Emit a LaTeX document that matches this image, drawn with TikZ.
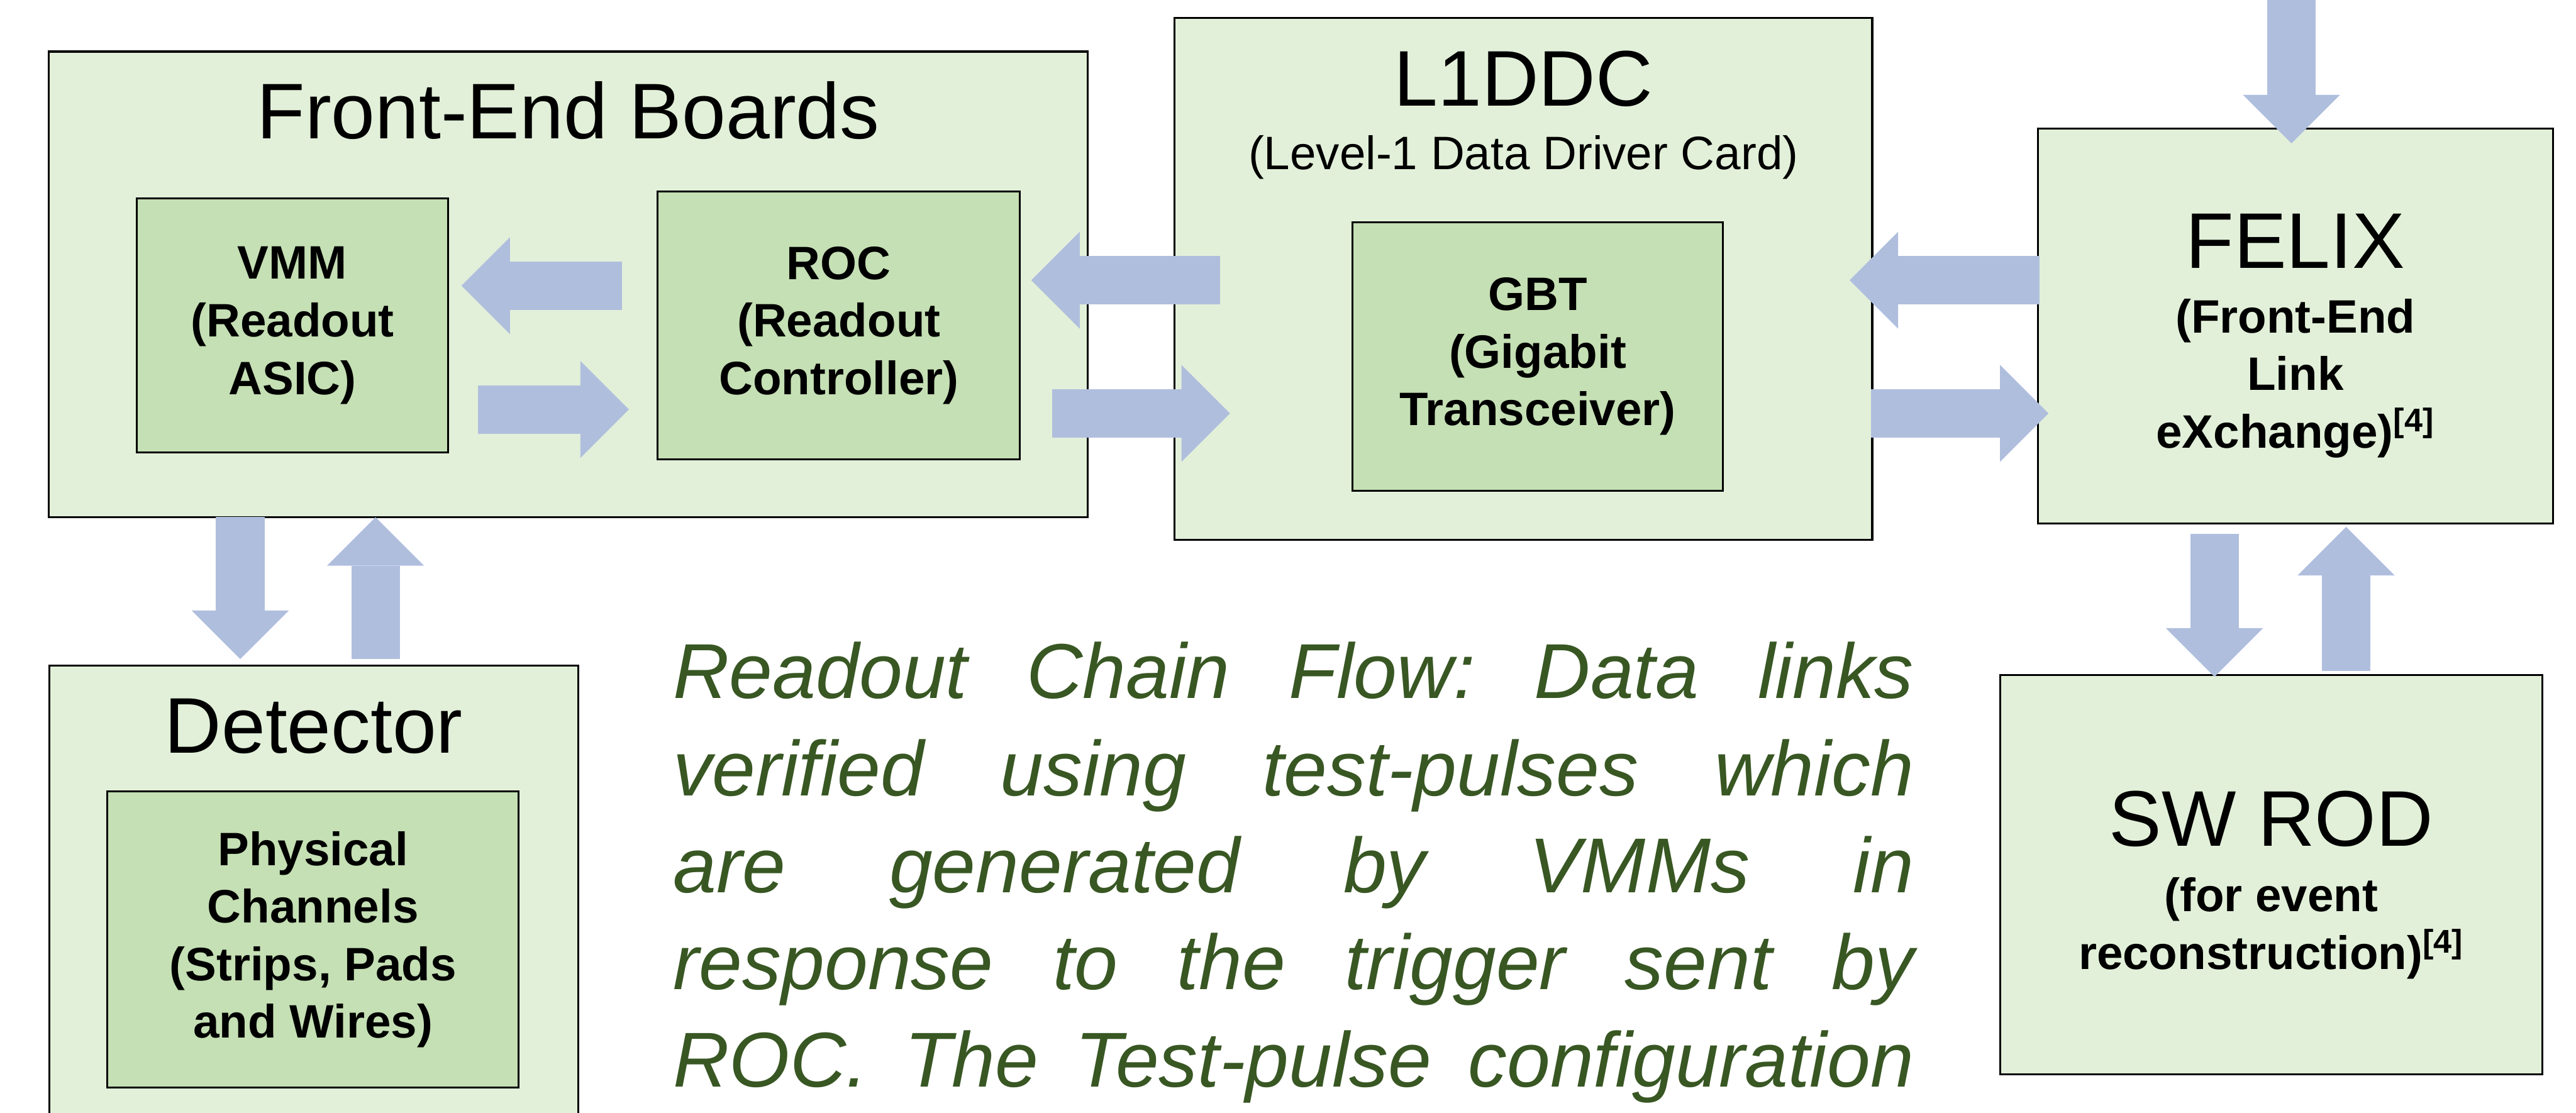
\documentclass[tikz,border=0pt]{standalone}
\usepackage{fontspec}
\setmainfont{Liberation Sans}
\usepackage{xcolor}
\usetikzlibrary{
arrows.meta,
positioning,
calc
}

\definecolor{boxgreen}{HTML}{E2F0D9}
\definecolor{chipgreen}{HTML}{C5E0B4}
\definecolor{flowblue}{RGB}{176,190,222}
\definecolor{notegreen}{HTML}{385723}

\begin{document}
\begin{tikzpicture}[
    >={Triangle[length=8mm,width=16mm,line width=0pt]},
    box/.style={draw, line width=0.9pt, fill=boxgreen, inner sep=0pt},
    chip/.style={draw, line width=0.9pt, fill=chipgreen, inner sep=0pt,
      align=center, font=\fontsize{22}{27}\selectfont\bfseries},
    ttl/.style={anchor=base, inner sep=0pt, font=\fontsize{37}{44}\selectfont},
    sub/.style={anchor=base, inner sep=0pt, align=center,
      font=\fontsize{22}{27}\selectfont\bfseries},
    note/.style={anchor=north west, inner sep=0pt, text width=20.45cm,
      align=justify, text=notegreen,
      font=\fontsize{36.5}{45.5}\selectfont\itshape},
    link/.style={->, draw=flowblue, line width=8mm, line cap=butt}
  ]
  \clip (0,0) rectangle (42.46,-18.34);

  % outer boards
  \node[box, minimum width=17.13cm, minimum height=7.68cm] (FEB) at (9.365,-4.69) {};
  \node[box, minimum width=11.50cm, minimum height=8.60cm] (L1DDC) at (25.11,-4.60) {};
  \node[box, minimum width=8.49cm, minimum height=6.51cm] (FELIX) at (37.835,-5.375) {};
  \node[box, minimum width=8.72cm, minimum height=8.03cm] (Det) at (5.17,-14.985) {};
  \node[box, minimum width=8.93cm, minimum height=6.58cm,
    below=2.47cm of FELIX, xshift=-4mm] (SWROD) {};

  % chips
  \node[chip, minimum width=5.14cm, minimum height=4.19cm] (VMM) at (4.82,-5.365)
    {VMM\\(Readout\\ASIC)};
  \node[chip, minimum width=5.97cm, minimum height=4.42cm, right=3.42cm of VMM] (ROC)
    {ROC\\(Readout\\Controller)};
  \node[chip, minimum width=6.11cm, minimum height=4.43cm] (GBT) at (25.345,-5.875)
    {GBT\\(Gigabit\\Transceiver)};
  \node[chip, minimum width=6.78cm, minimum height=4.88cm] (Phys) at (5.16,-15.49)
    {Physical\\Channels\\(Strips, Pads\\and Wires)};

  % titles (sub: base is the last line)
  \node[ttl] (FEBttl) at ([yshift=-14.5mm]FEB.north) {Front-End Boards};
  \node[ttl] (L1DDCttl) at ([yshift=-14.6mm]L1DDC.north) {L1DDC};
  \node[anchor=base, inner sep=0pt, font=\fontsize{22}{27}\selectfont] (L1DDCsub)
    at ([yshift=-25.1mm]L1DDC.north) {(Level-1 Data Driver Card)};
  \node[ttl] (FELIXttl) at ([yshift=-23.2mm]FELIX.north) {FELIX};
  \node[sub] (FELIXsub) at ([yshift=-52.8mm]FELIX.north)
    {(Front-End\\Link\\eXchange)\textsuperscript{[4]}};
  \node[ttl] (Detttl) at ([yshift=-14.6mm]Det.north) {Detector};
  \node[ttl] (SWRODttl) at ([yshift=-28.3mm]SWROD.north) {SW ROD};
  \node[sub] (SWRODsub) at ([yshift=-48.6mm]SWROD.north)
    {(for event\\reconstruction)\textsuperscript{[4]}};

  \node[note] (flow) at (11.09,-10.58) {\frenchspacing\parfillskip=0pt
    Readout Chain Flow: Data links\linebreak
    verified using test-pulses which\linebreak
    are generated by VMMs in\linebreak
    response to the trigger sent by\linebreak
    ROC. The Test-pulse configuration\par};

  % arrow levels
  \coordinate (hiF) at (0,-4.71);
  \coordinate (loF) at (0,-6.75);
  \coordinate (hi) at (0,-4.62);
  \coordinate (lo) at (0,-6.815);
  \coordinate (dnD) at (3.96,0);
  \coordinate (upD) at (6.19,0);
  \coordinate (dnS) at (36.50,0);
  \coordinate (upS) at (38.67,0);
  \coordinate (feed) at (37.77,0.2);

  \draw[link] ($(ROC.west |- hiF)+(-0.57,0)$) -- ($(VMM.east |- hiF)+(0.2,0)$);
  \draw[link] ($(VMM.east |- loF)+(0.47,0)$) -- ($(ROC.west |- loF)+(-0.46,0)$);
  \draw[link] ($(L1DDC.west |- hi)+(0.77,0)$) -- ($(ROC.east |- hi)+(0.17,0)$);
  \draw[link] ($(ROC.east |- lo)+(0.52,0)$) -- ($(L1DDC.west |- lo)+(0.93,0)$);
  \draw[link] ($(FELIX.west |- hi)+(0.04,0)$) -- ($(L1DDC.east |- hi)+(-0.39,0)$);
  \draw[link] ($(L1DDC.east |- lo)+(-0.04,0)$) -- ($(FELIX.west |- lo)+(0.19,0)$);
  \draw[link] (feed) -- ($(feed |- FELIX.north)+(0,-0.26)$);
  \draw[link] ($(dnD |- FEB.south)+(0,0.02)$) -- ($(dnD |- Det.north)+(0,0.09)$);
  \draw[link] ($(upD |- Det.north)+(0,0.09)$) -- ($(upD |- FEB.south)+(0,0.02)$);
  \draw[link] ($(dnS |- FELIX.south)+(0,-0.15)$) -- ($(dnS |- SWROD.north)+(0,-0.04)$);
  \draw[link] ($(upS |- SWROD.north)+(0,0.05)$) -- ($(upS |- FELIX.south)+(0,-0.04)$);
\end{tikzpicture}
\end{document}
